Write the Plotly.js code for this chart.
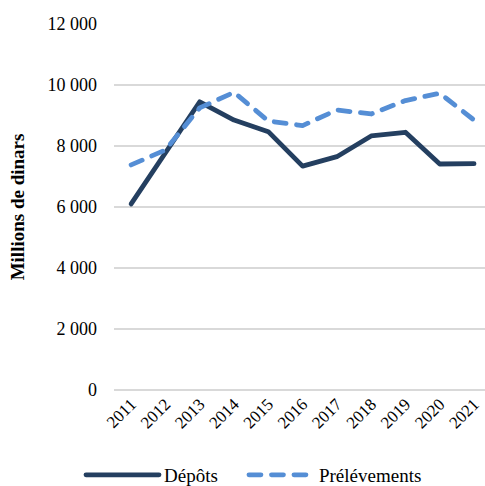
<!DOCTYPE html>
<html><head><meta charset="utf-8">
<script src="https://cdn.plot.ly/plotly-3.0.1.min.js"></script>
<style>body{margin:0;padding:0}#chart{width:485px;height:486px}
path.js-line{stroke-linecap:round;stroke-linejoin:round}</style>
</head><body><div id="chart"></div>
<script>
const years = ["2011","2012","2013","2014","2015","2016","2017","2018","2019","2020","2021"];
const depots = [6100, 7750, 9450, 8850, 8470, 7340, 7650, 8330, 8450, 7410, 7420];
const prelevements = [7380, 7870, 9250, 9760, 8820, 8670, 9180, 9050, 9490, 9730, 8850];
const yTicks = [0, 2000, 4000, 6000, 8000, 10000, 12000];

const serif = "Times New Roman, Liberation Serif, serif";
const font = {family: serif, color: "#000", size: 18};
const legFont = {family: serif, color: "#000", size: 19};

Plotly.newPlot("chart", [
  {x: years, y: depots, name: "Dépôts", type: "scatter", mode: "lines", legend: "legend",
   line: {color: "#243F60", width: 4.8}},
  {x: years, y: prelevements, name: "Prélévements", type: "scatter", mode: "lines", legend: "legend2",
   line: {color: "#558ED5", width: 4.8, dash: "12px,10.5px"}}
], {
  width: 485, height: 486,
  margin: {l: 114, r: 0, t: 24, b: 96, autoexpand: false},
  paper_bgcolor: "#fff", plot_bgcolor: "#fff",
  font: font,
  separators: ", ",
  showlegend: true,
  xaxis: {type: "category", range: [-0.5, 10.32], tickangle: -45, showgrid: false, automargin: false,
          zeroline: false, showline: false, ticks: "", tickfont: {family: serif, color: "#000", size: 17}, fixedrange: true},
  yaxis: {range: [0, 12000], tickvals: yTicks, tickformat: ",d", showgrid: true, automargin: false,
          gridcolor: "#D9D9D9", gridwidth: 1.3, zeroline: true, zerolinecolor: "#D9D9D9",
          zerolinewidth: 1.3, showline: false, ticks: "", ticklabelstandoff: 16,
          tickfont: font,
          title: {text: "<b>Millions de dinars</b>", font: {family: serif, color: "#000", size: 19}, standoff: 17}},
  legend: {orientation: "h", xref: "container", yref: "container", x: 0.167, y: 0.0226,
           xanchor: "left", yanchor: "middle", itemwidth: 73, font: legFont, bgcolor: "rgba(0,0,0,0)"},
  legend2: {orientation: "h", xref: "container", yref: "container", x: 0.503, y: 0.0226,
           xanchor: "left", yanchor: "middle", itemwidth: 65, font: legFont, bgcolor: "rgba(0,0,0,0)"}
}, {displayModeBar: false, staticPlot: true});
</script></body></html>
